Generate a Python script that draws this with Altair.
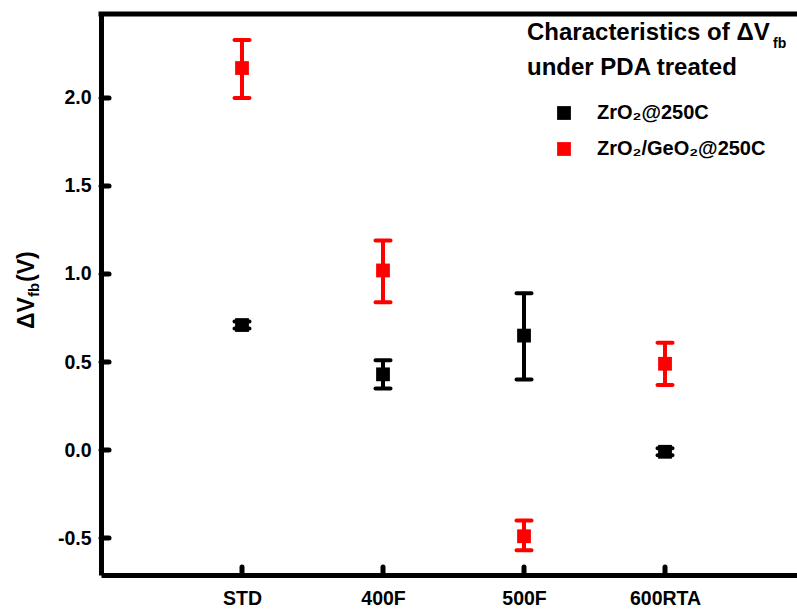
import altair as alt
import pandas as pd

categories = ["STD", "400F", "500F", "600RTA"]
cat_pos = [1, 2, 3, 4]

black_mean = [0.71, 0.43, 0.65, -0.01]
black_low = [0.69, 0.35, 0.40, -0.03]
black_high = [0.73, 0.51, 0.89, 0.01]

red_mean = [2.17, 1.02, -0.49, 0.49]
red_low = [2.00, 0.84, -0.57, 0.37]
red_high = [2.33, 1.19, -0.40, 0.61]

series_names = ["ZrO\u2082@250C", "ZrO\u2082/GeO\u2082@250C"]
series_colors = ["#000000", "#ff0000"]
y_ticks = [-0.5, 0.0, 0.5, 1.0, 1.5, 2.0]

W, H = 696, 561
FONT = "Liberation Sans"

rows = []
for i, c in enumerate(categories):
    rows.append(dict(pos=cat_pos[i], cat=c, s=series_names[0], m=black_mean[i], lo=black_low[i], hi=black_high[i]))
    rows.append(dict(pos=cat_pos[i], cat=c, s=series_names[1], m=red_mean[i], lo=red_low[i], hi=red_high[i]))
df = pd.DataFrame(rows)

label_expr = " : ".join([f"datum.value == {p} ? '{c}'" for p, c in zip(cat_pos, categories)]) + " : ''"
y_label_expr = "replace(format(datum.value, '.1f'), '\u2212', '-')"

xs = alt.Scale(domain=[0, 4.936], nice=False, zero=False)
ys = alt.Scale(domain=[-0.710, 2.477], nice=False, zero=False)
color = alt.Color("s:N", scale=alt.Scale(domain=series_names, range=series_colors), legend=None)

base = alt.Chart(df)

rule = base.mark_rule(strokeWidth=4).encode(
    x=alt.X("pos:Q", scale=xs, axis=alt.Axis(
        values=cat_pos, labelExpr=label_expr, title=None, ticks=False,
        domainWidth=5, domainColor="black", labelFont=FONT, labelFontSize=19.5,
        labelFontWeight="bold", labelColor="black", labelPadding=14, grid=False)),
    y=alt.Y("lo:Q", scale=ys, axis=alt.Axis(
        values=y_ticks, labelExpr=y_label_expr, title=None, ticks=False,
        domainWidth=5, domainColor="black", labelFont=FONT, labelFontSize=19.5,
        labelFontWeight="bold", labelColor="black", labelPadding=10, grid=False)),
    y2="hi:Q",
    color=color,
)
cap_lo = base.mark_tick(orient="horizontal", size=19, thickness=4, cornerRadius=2, opacity=1).encode(
    x=alt.X("pos:Q", scale=xs), y=alt.Y("lo:Q", scale=ys), color=color)
cap_hi = base.mark_tick(orient="horizontal", size=19, thickness=4, cornerRadius=2, opacity=1).encode(
    x=alt.X("pos:Q", scale=xs), y=alt.Y("hi:Q", scale=ys), color=color)
pts = base.mark_square(size=190, opacity=1, strokeWidth=0).encode(
    x=alt.X("pos:Q", scale=xs), y=alt.Y("m:Q", scale=ys), color=color)

# inward ticks
xt = alt.Chart(pd.DataFrame({"pos": cat_pos})).mark_rule(strokeWidth=5, strokeCap="round", color="black").encode(
    x=alt.X("pos:Q", scale=xs), y=alt.value(H - 8), y2=alt.value(H))
yt = alt.Chart(pd.DataFrame({"v": y_ticks})).mark_rule(strokeWidth=5, strokeCap="round", color="black").encode(
    y=alt.Y("v:Q", scale=ys), x=alt.value(0), x2=alt.value(8))
top = alt.Chart(pd.DataFrame({"a": [0]})).mark_rule(strokeWidth=5, color="black").encode(
    x=alt.value(-2.5), x2=alt.value(W + 10), y=alt.value(0))


def txt(t, x, y, size, angle=0, align="left", baseline="middle"):
    return alt.Chart(pd.DataFrame({"t": [t]})).mark_text(
        font=FONT, fontWeight="bold", fontSize=size, angle=angle, align=align,
        baseline=baseline, color="black").encode(text="t:N", x=alt.value(x), y=alt.value(y))


# y-axis title (rotated, with subscript)
ytitle = [
    txt("\u0394V", -74, 315, 23, angle=270),
    txt("fb", -67, 283, 15, angle=270),
    txt("(V)", -74, 268, 23, angle=270),
]

leg_title = [
    txt("Characteristics of \u0394V", 426, 19, 24),
    txt("fb", 672, 30, 14),
    txt("under PDA treated", 426, 54, 24),
]
leg_df = pd.DataFrame({"s": series_names, "yy": [99, 135]})
leg_sq = alt.Chart(leg_df).mark_square(size=190, opacity=1).encode(
    x=alt.value(463), y=alt.Y("yy:Q", scale=None), color=color)
leg_tx = alt.Chart(leg_df).mark_text(font=FONT, fontWeight="bold", fontSize=20, align="left",
                                     baseline="middle", color="black").encode(
    x=alt.value(496), y=alt.Y("yy:Q", scale=None), text="s:N")

chart = alt.layer(rule, cap_lo, cap_hi, pts, xt, yt, top, *ytitle, *leg_title, leg_sq, leg_tx).properties(
    width=W, height=H,
    autosize=alt.AutoSizeParams(type="none"),
    padding={"left": 101, "top": 14, "right": 0, "bottom": 37},
).configure_view(strokeWidth=0).configure(background="white")

chart.save("out.html", embed_options={"renderer": "svg", "actions": False})
